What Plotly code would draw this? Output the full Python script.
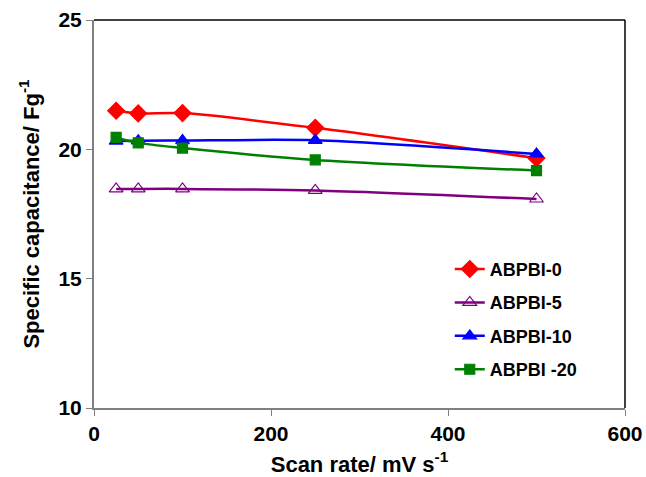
import plotly.graph_objects as go

scan_rate = [25, 50, 100, 250, 500]
abpbi_0 = [21.49, 21.39, 21.40, 20.83, 19.66]
abpbi_5 = [18.47, 18.47, 18.47, 18.41, 18.08]
abpbi_10 = [20.32, 20.33, 20.34, 20.35, 19.82]
abpbi_20 = [20.46, 20.25, 20.05, 19.59, 19.18]

names = ["ABPBI-0", "ABPBI-5", "ABPBI-10", "ABPBI -20"]
colors = ["#ff0000", "#800080", "#0000ff", "#008000"]
symbols = ["diamond", "triangle-up-open", "triangle-up", "square"]
sizes = [13, 12, 12, 10]
series = [abpbi_0, abpbi_5, abpbi_10, abpbi_20]

fig = go.Figure()
for i, (nm, col, sym, sz, ys) in enumerate(zip(names, colors, symbols, sizes, series)):
    fig.add_trace(go.Scatter(
        x=scan_rate, y=ys, name=nm, mode="lines+markers",
        line=dict(color=col, width=2.5, shape="spline", smoothing=0.8),
        marker=dict(color=col, symbol=sym, size=sz, line=dict(color=col, width=1.2)),
        legendgroup=nm,
    ))

font_fam = "Liberation Sans, Arial, sans-serif"
fig.update_layout(
    width=646, height=477,
    margin=dict(l=94, r=21, t=20, b=69),
    paper_bgcolor="white", plot_bgcolor="white",
    font=dict(family=font_fam, color="black"),
    showlegend=True,
    legend=dict(x=0.67, y=0.405, xanchor="left", yanchor="top",
                font=dict(size=18, family=font_fam, weight="bold"),
                tracegroupgap=7, bgcolor="rgba(0,0,0,0)"),
    xaxis=dict(range=[0, 600], tickvals=[0, 200, 400, 600],
               showgrid=False, zeroline=False, automargin=False,
               showline=True, linecolor="#808080", linewidth=2,
               ticks="outside", ticklen=6, tickcolor="#808080",
               tickfont=dict(size=21, family=font_fam, weight="bold", color="black"),
               title=dict(text="Scan rate/ mV s<sup>-1</sup>",
                          font=dict(size=22, family=font_fam, weight="bold"), standoff=12)),
    yaxis=dict(range=[10, 25], tickvals=[10, 15, 20, 25],
               showgrid=False, zeroline=False, automargin=False,
               showline=True, linecolor="#808080", linewidth=2,
               ticks="outside", ticklen=6, tickcolor="#808080",
               tickfont=dict(size=21, family=font_fam, weight="bold", color="black"),
               title=dict(text="Specific capacitance/ Fg<sup>-1</sup>",
                          font=dict(size=22, family=font_fam, weight="bold"), standoff=13)),
)
fig.add_shape(type="line", xref="paper", yref="paper", x0=0, x1=1, y0=1, y1=1,
              line=dict(color="black", width=1.5))
fig.add_shape(type="line", xref="paper", yref="paper", x0=1, x1=1, y0=0, y1=1,
              line=dict(color="black", width=1.5))

fig.write_html("out.html", config={"displayModeBar": False},
               post_script="document.body.style.margin='0';document.body.style.overflow='hidden';")
